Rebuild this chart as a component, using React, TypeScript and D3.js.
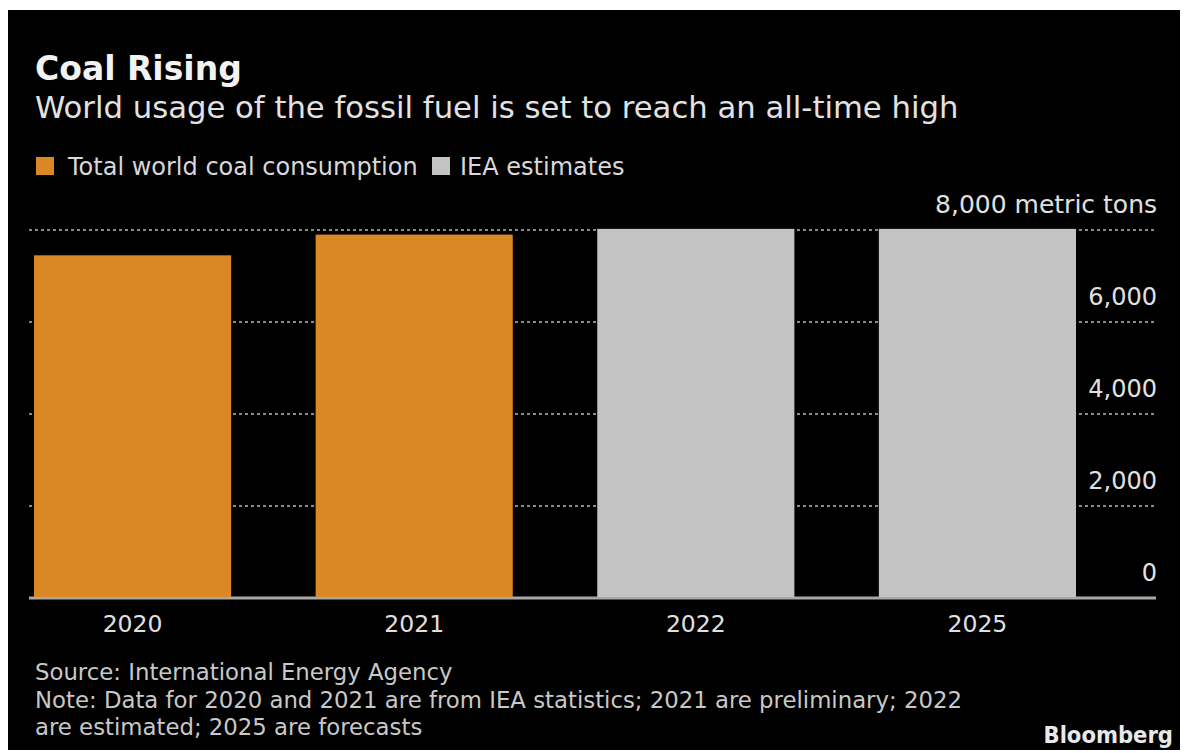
import React from "react";
import * as d3 from "d3";

const categories = ["2020", "2021", "2022", "2025"];
const values = [7450, 7900, 8025, 8025];
const seriesOf = ["Total world coal consumption", "Total world coal consumption", "IEA estimates", "IEA estimates"];
const legendItems = ["Total world coal consumption", "IEA estimates"];
const legendColors = ["#DA8826", "#C3C3C3"];
const yTicks = [0, 2000, 4000, 6000, 8000];
const yTickLabels = ["0", "2,000", "4,000", "6,000", "8,000 metric tons"];
const title = "Coal Rising";
const subtitle = "World usage of the fossil fuel is set to reach an all-time high";
const footerLines = [
  "Source: International Energy Agency",
  "Note: Data for 2020 and 2021 are from IEA statistics; 2021 are preliminary; 2022",
  "are estimated; 2025 are forecasts",
];

const FONT = "'DejaVu Sans', sans-serif";
const FONT_COND = "'DejaVu Sans Condensed', 'DejaVu Sans', sans-serif";

export default function App() {
  const W = 1185;
  const H = 753;
  const x = d3.scaleBand<string>().domain(categories).range([34, 1076]).paddingInner(0.3).paddingOuter(0);
  const y = d3.scaleLinear().domain([0, 8000]).range([598, 230]);
  const color = d3.scaleOrdinal<string, string>().domain(legendItems).range(legendColors);
  const gridX0 = 29;
  const gridX1 = 1156;
  const labelRight = 1157;

  return (
    <svg
      width={W}
      height={H}
      style={{ position: "absolute", left: 0, top: 0, background: "#fff" }}
      fontFamily={FONT}
    >
      <rect x={8} y={10} width={1172} height={740} fill="#000" />
      <text x={35} y={80} fill="#F2F2F2" fontSize={33} fontWeight="bold">{title}</text>
      <text x={35} y={118} fill="#E2E2E2" fontSize={30.7}>{subtitle}</text>

      {legendItems.map((item, i) => {
        const lx = i === 0 ? 36 : 432;
        return (
          <g key={item}>
            <rect x={lx} y={157} width={18} height={18} fill={color(item)} />
            <text x={lx + (i === 0 ? 32 : 28)} y={175} fill="#D8D8D8" fontSize={24}>{item}</text>
          </g>
        );
      })}

      {yTicks.map((t) =>
        t === 0 ? null : (
          <line
            key={"g" + t}
            x1={gridX0}
            x2={gridX1}
            y1={y(t)}
            y2={y(t)}
            stroke="#8A8A8A"
            strokeWidth={2}
            strokeDasharray="3,3"
          />
        )
      )}

      <line x1={gridX0} x2={gridX1} y1={y(0)} y2={y(0)} stroke="#A8A8A8" strokeWidth={3} />

      {categories.map((c, i) => (
        <rect
          key={c}
          x={x(c)}
          y={y(values[i])}
          width={x.bandwidth()}
          height={y(0) - y(values[i]) - 1}
          fill={color(seriesOf[i])}
        />
      ))}

      {yTicks.map((t, i) => (
        <text
          key={"t" + t}
          x={labelRight}
          y={y(t) - 17}
          fill="#E0E0E0"
          fontSize={t === 8000 ? 25 : 24}
          textAnchor="end"
        >
          {yTickLabels[i]}
        </text>
      ))}

      {categories.map((c) => (
        <text
          key={"x" + c}
          x={(x(c) as number) + x.bandwidth() / 2}
          y={632}
          fill="#E0E0E0"
          fontSize={23.5}
          textAnchor="middle"
        >
          {c}
        </text>
      ))}

      {footerLines.map((l, i) => (
        <text key={"f" + i} x={35} y={680 + i * 27.5} fill="#C8C8C8" fontSize={22.8}>
          {l}
        </text>
      ))}
      <text
        x={1173}
        y={743}
        fill="#E8E8E8"
        fontSize={23.5}
        fontWeight="bold"
        textAnchor="end"
        fontFamily={FONT_COND}
        fontStretch="condensed"
      >
        Bloomberg
      </text>
    </svg>
  );
}
